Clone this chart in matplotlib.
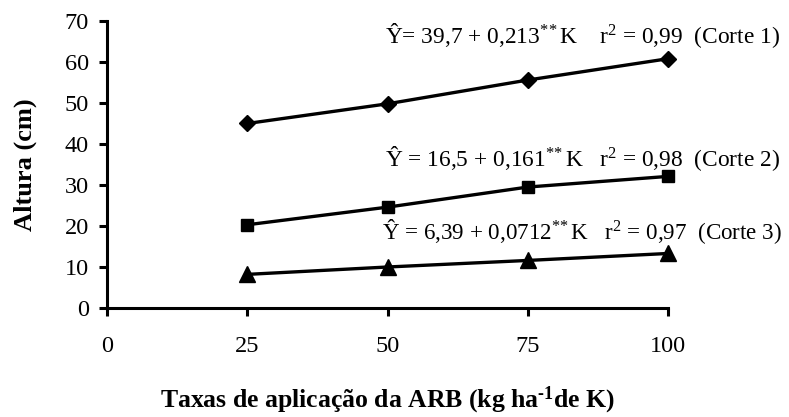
import matplotlib
matplotlib.use('Agg')
import matplotlib.pyplot as plt

# Data
doses = [25, 50, 75, 100]
corte_1 = [45.0, 49.8, 55.6, 60.8]
corte_2 = [20.3, 24.6, 29.5, 32.1]
corte_3 = [8.2, 10.0, 11.6, 13.3]

x_ticks = [0, 25, 50, 75, 100]
y_ticks = [0, 10, 20, 30, 40, 50, 60, 70]

eq_1 = r'Ŷ= 39,7 + 0,213$^{*\!*}$K    r$^{2}$ = 0,99  (Corte 1)'
eq_2 = r'Ŷ = 16,5 + 0,161$^{*\!*}$K   r$^{2}$ = 0,98  (Corte 2)'
eq_3 = r'Ŷ = 6,39 + 0,0712$^{*\!*}$K   r$^{2}$ = 0,97  (Corte 3)'

plt.rcParams['font.family'] = ['Liberation Serif', 'DejaVu Serif']
plt.rcParams['mathtext.fontset'] = 'custom'
plt.rcParams['mathtext.rm'] = 'Liberation Serif'
plt.rcParams['mathtext.it'] = 'Liberation Serif'
plt.rcParams['mathtext.bf'] = 'Liberation Serif:bold'
plt.rcParams['mathtext.default'] = 'rm'

fig = plt.figure(figsize=(7.89, 4.17), dpi=100)
ax = fig.add_axes([107 / 789, 1 - 308 / 417, (668 - 107) / 789, (308 - 21) / 417])

ax.plot(doses, corte_1, color='black', lw=2.4, marker='D', ms=8, clip_on=False)
ax.plot(doses, corte_2, color='black', lw=2.4, marker='s', ms=9, clip_on=False)
ax.plot(doses, corte_3, color='black', lw=2.4, marker='^', ms=11, clip_on=False)

ax.text(49.5, 64.6, eq_1, fontsize=16.8)
ax.text(49.5, 34.6, eq_2, fontsize=16.8)
ax.text(49.0, 16.8, eq_3, fontsize=16.6)

ax.set_xlim(0, 100)
ax.set_ylim(0, 70)
ax.set_xticks(x_ticks)
ax.set_yticks(y_ticks)
ax.spines['top'].set_visible(False)
ax.spines['right'].set_visible(False)
ax.spines['left'].set_linewidth(2.2)
ax.spines['bottom'].set_linewidth(2.2)
ax.tick_params(axis='both', direction='out', length=6, width=2.2, labelsize=17.5)
ax.tick_params(axis='x', pad=14)
ax.tick_params(axis='y', pad=7)

ax.set_xlabel('Taxas de aplicação da ARB (kg ha$^{\\mathbf{\u20101}}$de K)', fontsize=18.5,
              fontweight='bold', labelpad=20)
ax.set_ylabel('Altura (cm)', fontsize=19, fontweight='bold', labelpad=20)

fig.savefig('out.png', dpi=100)
